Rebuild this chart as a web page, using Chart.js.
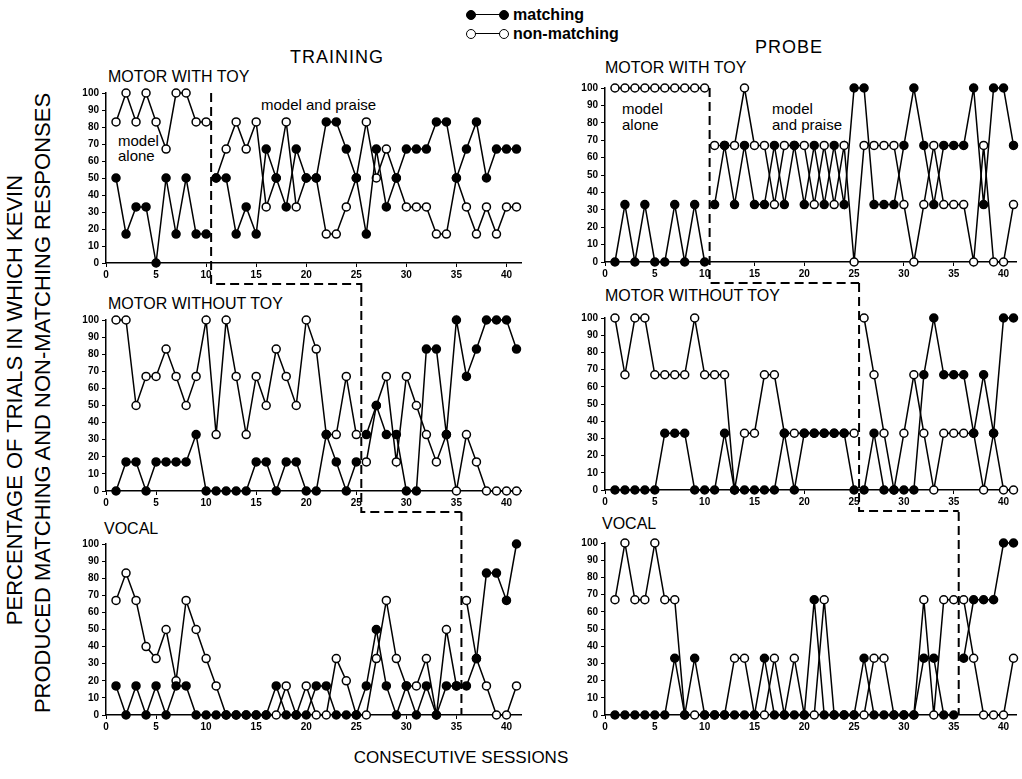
<!DOCTYPE html>
<html><head><meta charset="utf-8">
<script src="https://cdn.jsdelivr.net/npm/chart.js@4"></script>
<style>
body{margin:0;background:#fff;width:1022px;height:779px;position:relative;overflow:hidden;font-family:"Liberation Sans",Arial,sans-serif;color:#000}
canvas{position:absolute}
.t{position:absolute;white-space:nowrap;line-height:1}
.ttl{font-size:16px}
.note{font-size:15px}
.leg{position:absolute;left:466px;font-size:16px;font-weight:bold;line-height:1;white-space:nowrap}
.leg i{position:absolute;width:8px;height:8px;border:1.5px solid #000;border-radius:50%;top:3px}
.leg b{position:absolute;left:5px;top:7px;width:32px;border-top:1.5px solid #000}
.leg span{position:absolute;left:47px;top:0}
</style></head><body>

<div class="leg" style="top:7px"><b></b><i style="left:0;background:#000"></i><i style="left:33px;background:#000"></i><span>matching</span></div>
<div class="leg" style="top:26px"><b></b><i style="left:0;background:#fff"></i><i style="left:33px;background:#fff"></i><span>non-matching</span></div>

<div class="t" style="left:290px;top:48px;font-size:18px;letter-spacing:1px">TRAINING</div>
<div class="t" style="left:755px;top:38px;font-size:18px;letter-spacing:1px">PROBE</div>

<div class="t ttl" style="left:108px;top:69px">MOTOR WITH TOY</div>
<div class="t ttl" style="left:108px;top:296px">MOTOR WITHOUT TOY</div>
<div class="t ttl" style="left:104px;top:521px">VOCAL</div>
<div class="t ttl" style="left:605px;top:60px">MOTOR WITH TOY</div>
<div class="t ttl" style="left:605px;top:288px">MOTOR WITHOUT TOY</div>
<div class="t ttl" style="left:602px;top:516px">VOCAL</div>

<div class="t note" style="left:118px;top:133px">model</div>
<div class="t note" style="left:118px;top:148px">alone</div>
<div class="t note" style="left:261px;top:97px">model and praise</div>
<div class="t note" style="left:622px;top:101px">model</div>
<div class="t note" style="left:622px;top:117px">alone</div>
<div class="t note" style="left:772px;top:101px">model</div>
<div class="t note" style="left:772px;top:117px">and praise</div>

<div class="t" style="left:15px;top:400px;font-size:22px;transform:translate(-50%,-50%) rotate(-90deg)">PERCENTAGE OF TRIALS IN WHICH KEVIN</div>
<div class="t" style="left:43px;top:403px;font-size:22px;transform:translate(-50%,-50%) rotate(-90deg)">PRODUCED MATCHING AND NON-MATCHING RESPONSES</div>
<div class="t" style="left:461px;top:757px;font-size:17px;transform:translate(-50%,-50%)">CONSECUTIVE SESSIONS</div>

<canvas id="t1"></canvas><canvas id="t2"></canvas><canvas id="t3"></canvas>
<canvas id="p1"></canvas><canvas id="p2"></canvas><canvas id="p3"></canvas>

<script>
/* ––––– data ––––– */
const sessions = [1,2,3,4,5,6,7,8,9,10,11,12,13,14,15,16,17,18,19,20,21,22,23,24,25,26,27,28,29,30,31,32,33,34,35,36,37,38,39,40,41];
const xTicks = [0,5,10,15,20,25,30,35,40];
const yTicks = [0,10,20,30,40,50,60,70,80,90,100];
// last baseline session for each behaviour (toy, without toy, vocal)
const phaseEnd = [10, 25, 35];

// training
const trainToyMatch   = [50,17,33,33,0,50,17,50,17,17, 50,50,17,33,17,67,50,33,67,50, 50,83,83,67,50,17,67,33,50,67, 67,67,83,83,50,67,83,50,67,67, 67];
const trainToyNon     = [83,100,83,100,83,67,100,100,83,83, 50,67,83,67,83,33,50,83,33,50, 50,17,17,33,50,83,50,67,50,33, 33,33,17,17,50,33,17,33,17,33, 33];
const trainNoToyMatch = [0,17,17,0,17,17,17,17,33,0, 0,0,0,0,17,17,0,17,17,0, 0,33,17,0,17,33,50,33,33,0, 0,83,83,33,100,67,83,100,100,100, 83];
const trainNoToyNon   = [100,100,50,67,67,83,67,50,67,100, 33,100,67,33,67,50,83,67,50,100, 83,33,33,67,33,17,50,67,17,67, 50,33,17,33,0,33,17,0,0,0, 0];
const trainVocalMatch = [17,0,17,0,17,0,17,17,0,0, 0,0,0,0,0,0,17,0,0,0, 17,17,0,0,0,17,50,17,0,17, 0,17,0,17,17,17,33,83,83,67, 100];
const trainVocalNon   = [67,83,67,40,33,50,20,67,50,33, 17,0,0,0,0,0,0,17,0,17, 0,0,33,20,0,0,33,67,33,17, 17,33,0,50,17,67,33,17,0,0, 17];

// probe
const probeToyMatch   = [0,33,0,33,0,0,33,0,33,0, 33,67,33,67,33,33,67,33,67,33, 67,33,67,33,100,100,33,33,33,67, 100,67,33,67,67,67,100,33,100,100, 67];
const probeToyNon     = [100,100,100,100,100,100,100,100,100,100, 67,67,67,100,67,67,33,67,67,67, 33,67,33,67,0,67,67,67,67,33, 0,33,67,33,33,33,0,67,0,0, 33];
const probeNoToyMatch = [0,0,0,0,0,33,33,33,0,0, 0,33,0,0,0,0,0,33,0,33, 33,33,33,33,0,0,33,0,0,0, 0,67,100,67,67,67,33,67,33,100, 100];
const probeNoToyNon   = [100,67,100,100,67,67,67,67,100,67, 67,67,0,33,33,67,67,33,33,33, 33,33,33,33,33,100,67,33,0,33, 67,33,0,33,33,33,33,0,33,0, 0];
const probeVocalMatch = [0,0,0,0,0,0,33,0,33,0, 0,0,0,0,0,33,0,0,0,0, 67,0,0,0,0,33,0,0,0,0, 0,33,33,0,0,33,67,67,67,100, 100];
const probeVocalNon   = [67,100,67,67,100,67,67,0,0,0, 0,0,33,33,0,0,33,0,33,0, 0,67,0,0,0,0,33,33,0,0, 0,67,0,67,67,67,33,0,0,0, 33];

/* ––––– helpers ––––– */
const pts = vals => sessions.map((s,i) => ({x:s, y:vals[i]}));

// dashed phase-change line: vertical at the boundary, then a step to the next panel's boundary
const stairPlugin = {
  id:'stair',
  afterDraw(chart, args, o){
    const {ctx, chartArea:a, scales:{x}} = chart;
    const bx = x.getPixelForValue(o.at + 0.5);
    const y0 = o.first ? a.top : 0;
    const y1 = o.next != null ? a.bottom + 21 : a.bottom;
    ctx.save();
    ctx.setLineDash([9,5]); ctx.lineWidth = 2; ctx.strokeStyle = '#000';
    ctx.beginPath(); ctx.moveTo(bx, y0); ctx.lineTo(bx, y1);
    if (o.next != null) ctx.lineTo(x.getPixelForValue(o.next + 0.5), y1);
    ctx.stroke(); ctx.restore();
  }
};

function panel(id, box, match, non, stair, xMax){
  const c = document.getElementById(id);
  Object.assign(c.style, {left:box.left+'px', top:box.top+'px'});
  c.width = box.w; c.height = box.h;
  const tickFont = {family:'"Liberation Sans", Arial, sans-serif', size:10, weight:'bold'};
  // no line across the phase change
  const seg = {borderColor: s => s.p0.parsed.x === stair.at ? 'rgba(0,0,0,0)' : '#000'};
  const ds = (vals, fill) => ({
    data: pts(vals), borderColor:'#000', borderWidth:1.5, segment:seg,
    pointRadius:4, pointHoverRadius:4, pointBorderWidth:1.5,
    pointBackgroundColor: fill, pointBorderColor:'#000', clip:false
  });
  new Chart(c, {
    type:'line',
    data:{datasets:[ds(match,'#000'), ds(non,'#fff')]},
    options:{
      responsive:false, animation:false, devicePixelRatio:1,
      layout:{padding:{top:box.pad, right:box.right||4, left:0, bottom:0}},
      plugins:{legend:{display:false}, tooltip:{enabled:false}, stair},
      scales:{
        x:{type:'linear', min:0, max:xMax,
           afterFit: s => { s.height = 26; },
           afterBuildTicks: s => { s.ticks = xTicks.map(v => ({value:v})); },
           ticks:{font:tickFont, color:'#000', padding:2, maxRotation:0, includeBounds:false},
           grid:{drawOnChartArea:false, tickLength:4, color:'#000'},
           border:{color:'#000', width:1.5}},
        y:{min:0, max:100,
           afterFit: s => { s.width = 50; },
           afterBuildTicks: s => { s.ticks = yTicks.map(v => ({value:v})); },
           ticks:{font:tickFont, color:'#000', padding:3},
           grid:{drawOnChartArea:false, tickLength:4, color:'#000'},
           border:{color:'#000', width:1.5}}
      }
    },
    plugins:[stairPlugin]
  });
}

/* ––––– panels ––––– */
panel('t1', {left:56, top:60,  w:471, h:229, pad:33}, trainToyMatch,   trainToyNon,   {at:phaseEnd[0], next:phaseEnd[1], first:true}, 41.5);
panel('t2', {left:56, top:283, w:471, h:234, pad:37}, trainNoToyMatch, trainNoToyNon, {at:phaseEnd[1], next:phaseEnd[2]}, 41.5);
panel('t3', {left:56, top:512, w:471, h:229, pad:32}, trainVocalMatch, trainVocalNon, {at:phaseEnd[2]}, 41.5);
panel('p1', {left:555, top:60,  w:467, h:228, pad:28, right:1}, probeToyMatch,   probeToyNon,   {at:phaseEnd[0], next:phaseEnd[1], first:true}, 41.3);
panel('p2', {left:555, top:283, w:467, h:233, pad:35, right:1}, probeNoToyMatch, probeNoToyNon, {at:phaseEnd[1], next:phaseEnd[2]}, 41.3);
panel('p3', {left:555, top:512, w:467, h:229, pad:31, right:1}, probeVocalMatch, probeVocalNon, {at:phaseEnd[2]}, 41.3);
</script>
</body></html>
